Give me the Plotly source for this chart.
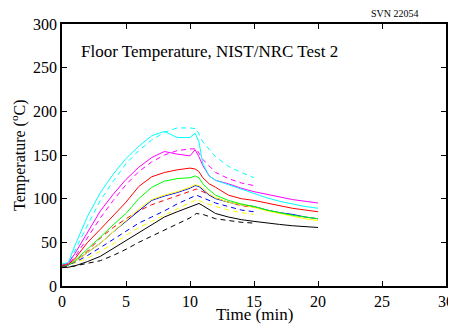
import plotly.graph_objects as go

# Time grids (min)
t_exp = [0, 0.5, 1, 2, 3, 4, 5, 6, 7, 8, 9, 10, 10.4, 10.7, 11, 11.5, 12, 13, 14, 15, 16, 17, 18, 19, 20]
t_mod = [0, 0.5, 1, 2, 3, 4, 5, 6, 7, 8, 9, 10, 10.5, 11, 12, 13, 14, 15]

# Experimental (solid) temperatures, deg C
exp_cyan = [25, 27, 46, 80, 107, 128, 146, 160, 172, 177, 170, 170, 175, 165, 140, 126, 121, 116, 111, 106, 101, 97, 94, 91, 89]
exp_magenta = [24, 26, 37, 62, 86, 105, 122, 136, 147, 154, 151, 149, 156, 148, 138, 126, 121, 117, 112, 108, 105, 102, 99, 97, 95]
exp_red = [23, 25, 31, 50, 65, 80, 96, 114, 125, 130, 133, 135, 134, 131, 124, 117, 113, 104, 100, 98, 95, 92, 89, 87, 85]
exp_green = [23, 24, 29, 42, 56, 70, 83, 100, 113, 120, 123, 124, 126, 124, 117, 110, 104, 98, 94, 91, 87, 84, 81, 79, 77]
exp_blue = [24, 24, 28, 38, 49, 62, 74, 87, 98, 103, 107, 112, 115, 114, 110, 104, 100, 96, 93, 91, 87, 84, 82, 79, 77]
exp_yellow = [25, 25, 28, 38, 49, 62, 75, 88, 99, 104, 108, 113, 116, 115, 112, 105, 101, 96, 93, 90, 86, 83, 80, 77, 75]
exp_black = [21, 21.5, 23, 28, 34, 43, 52, 62, 71, 79, 85, 91, 93.5, 94.5, 92, 87, 83, 79, 76, 74, 72, 70.5, 69, 68, 67]

# Model (dashed) temperatures, deg C
mod_cyan = [25, 26, 40, 70, 98, 120, 140, 155, 167, 176, 181, 181, 180, 165, 148, 137, 130, 124]
mod_magenta = [24, 25, 33, 55, 78, 98, 116, 131, 142, 150, 155, 157, 157, 145, 130, 123, 118, 115]
mod_red = [25, 25, 28, 40, 55, 67, 77, 86, 93, 98, 103, 108, 111, 108, 101, 96, 92, 90]
mod_blue = [25, 25, 27, 35, 44, 53, 63, 72, 79, 86, 94, 101, 104, 101, 95, 91, 87, 85]
mod_yellow = [25, 25, 26, 32, 40, 48, 58, 67, 74, 81, 88, 95, 99, 96, 91, 87, 84, 82]
mod_black = [22, 22, 23, 26, 29, 35, 42, 50, 57, 64, 71, 78, 83, 82, 77, 75, 73, 72]

x_ticks = [0, 5, 10, 15, 20, 25, 30]
y_ticks = [0, 50, 100, 150, 200, 250, 300]

fig = go.Figure()

def add(x, y, color, dash):
    fig.add_trace(go.Scatter(x=x, y=y, mode="lines",
                             line=dict(color=color, width=1, dash=dash),
                             showlegend=False, hoverinfo="skip"))

for y, c in [(mod_black, "#000000"), (mod_yellow, "#ffff00"), (mod_blue, "#0000ff"),
             (mod_red, "#ff0000"), (mod_magenta, "#ff00ff"), (mod_cyan, "#00ffff")]:
    add(t_mod, y, c, "5px,4px")

for y, c in [(exp_black, "#000000"), (exp_blue, "#0000ff"), (exp_yellow, "#ffff00"),
             (exp_green, "#00ff00"), (exp_red, "#ff0000"), (exp_magenta, "#ff00ff"),
             (exp_cyan, "#00ffff")]:
    add(t_exp, y, c, "solid")

serif = "Liberation Serif"
axis_common = dict(showgrid=False, zeroline=False, showline=True, linecolor="black",
                   linewidth=1.5, mirror="ticks", ticks="inside", ticklen=5,
                   tickcolor="black", tickwidth=1, automargin=False,
                   tickfont=dict(family=serif, size=16, color="black"))

# page body has an 8px margin, so the figure is 8px smaller than the window
fig.update_layout(
    width=448, height=320,
    margin=dict(l=54, r=10, t=16, b=42, autoexpand=False),
    paper_bgcolor="white", plot_bgcolor="white",
    xaxis=dict(range=[0, 30], tickvals=x_ticks, **axis_common),
    yaxis=dict(range=[0, 300], tickvals=y_ticks, **axis_common),
)
fig.add_annotation(text="Time (min)", x=0.5, y=0, xref="paper", yref="paper",
                   xanchor="center", yanchor="middle", yshift=-28, showarrow=False,
                   font=dict(family=serif, size=17, color="black"))
fig.add_annotation(text="Temperature (<sup>o</sup>C)", x=0, y=0.5, xref="paper", yref="paper",
                   xanchor="center", yanchor="middle", xshift=-44, textangle=-90,
                   showarrow=False, font=dict(family=serif, size=16, color="black"))
fig.add_annotation(text="Floor Temperature, NIST/NRC Test 2", x=1.35, y=268,
                   xref="x", yref="y", xanchor="left", yanchor="middle",
                   showarrow=False, font=dict(family=serif, size=17, color="black"))
fig.add_annotation(text="SVN 22054", x=1.0, y=1.0, xref="paper", yref="paper",
                   xanchor="right", yanchor="bottom", xshift=-25, yshift=3,
                   showarrow=False, font=dict(family=serif, size=10, color="black"))

fig.write_html("out.html")
